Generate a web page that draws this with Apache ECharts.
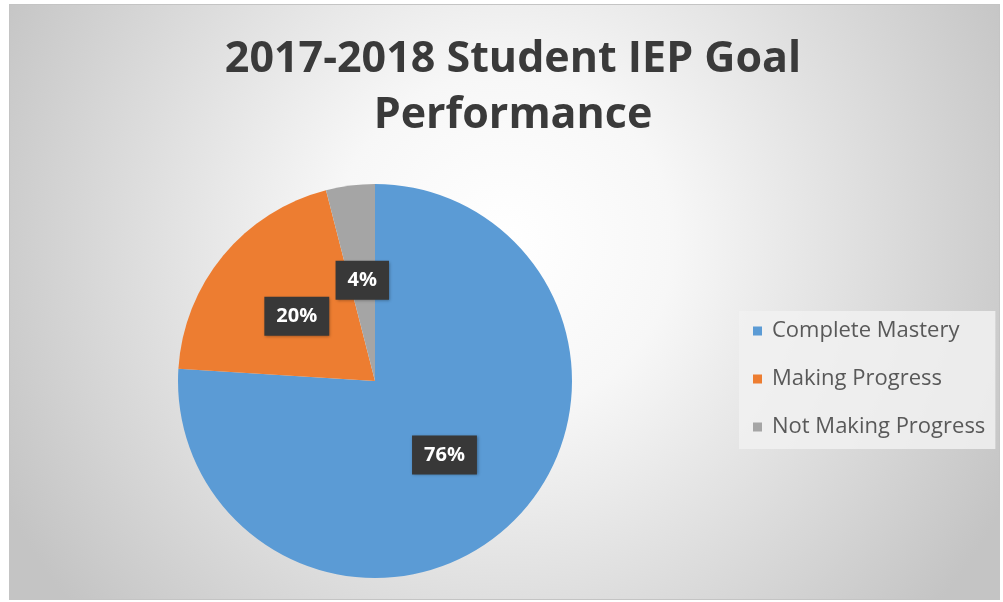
<!DOCTYPE html>
<html>
<head>
<meta charset="utf-8">
<script src="https://cdn.jsdelivr.net/npm/echarts@6/dist/echarts.min.js"></script>
<style>
html,body{margin:0;padding:0;background:#fff;}
#chart{position:absolute;left:9px;top:4px;width:991px;height:596px;box-sizing:border-box;border:1px solid #c4c4c4;}
</style>
</head>
<body>
<div id="chart"></div>
<script>
const titleText = '2017-2018 Student IEP Goal\nPerformance';
const categories = ['Complete Mastery', 'Making Progress', 'Not Making Progress'];
const values = [76, 20, 4];
const colors = ['#5b9bd5', '#ed7d31', '#a5a5a5'];

const chart = echarts.init(document.getElementById('chart'));
chart.setOption({
  backgroundColor: {
    type: 'radial', x: 0.5, y: 0.4, r: 0.95,
    colorStops: [
      {offset: 0, color: '#ffffff'},
      {offset: 0.3, color: '#f7f7f7'},
      {offset: 1, color: '#c4c4c4'}
    ]
  },
  title: {
    text: titleText,
    left: 498, top: 22, textAlign: 'center',
    textStyle: {fontFamily: 'Open Sans', fontWeight: 'bold', fontSize: 43, lineHeight: 56, color: '#3a3a3a'}
  },
  legend: {
    orient: 'vertical',
    left: 729, top: 306,
    backgroundColor: 'rgba(241,241,241,0.85)',
    padding: [5, 10, 7, 14],
    itemWidth: 9, itemHeight: 9, itemGap: 18,
    icon: 'rect',
    textStyle: {fontFamily: 'Open Sans', fontSize: 22, lineHeight: 30, color: '#595959', padding: [0,0,0,5]},
    data: categories
  },
  series: [{
    type: 'pie',
    center: [365, 376],
    radius: 197,
    startAngle: 90,
    clockwise: true,
    silent: true,
    label: {
      show: true,
      position: 'inside',
      formatter: '{d}%',
      fontFamily: 'Open Sans', fontWeight: 'bold', fontSize: 20, color: '#ffffff',
      backgroundColor: '#383838',
      padding: [10, 12, 9, 12],
      shadowColor: 'rgba(0,0,0,0.35)', shadowBlur: 3, shadowOffsetX: 1, shadowOffsetY: 1
    },
    labelLine: {show: false},
    itemStyle: {borderWidth: 0},
    data: categories.map((c, i) => ({name: c, value: values[i], itemStyle: {color: colors[i]}}))
  }]
});
</script>
</body>
</html>
